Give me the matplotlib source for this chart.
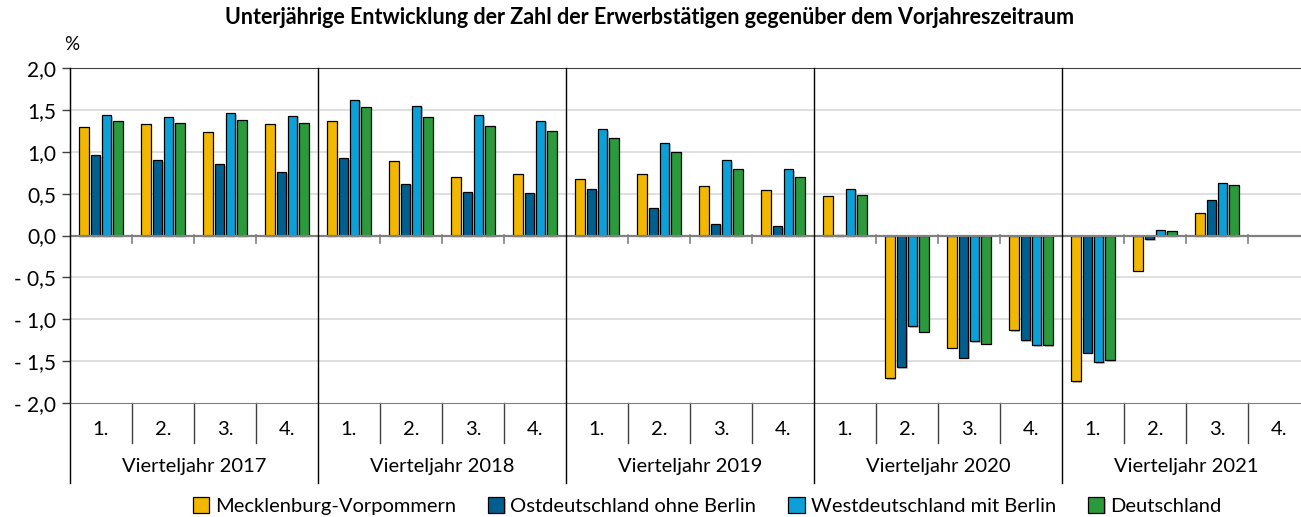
import numpy as np
import matplotlib
matplotlib.use("Agg")
import matplotlib.pyplot as plt
import matplotlib.patheffects as pe
from matplotlib.transforms import blended_transform_factory

plt.rcParams['font.family'] = ['Lato', 'DejaVu Sans']

# data (Veränderung gegenüber Vorjahreszeitraum in %)
years = ['2017', '2018', '2019', '2020', '2021']
quarters = ['1.', '2.', '3.', '4.']
series = ['Mecklenburg-Vorpommern', 'Ostdeutschland ohne Berlin',
          'Westdeutschland mit Berlin', 'Deutschland']
mv = [1.30, 1.33, 1.23, 1.33, 1.37, 0.89, 0.70, 0.74, 0.68, 0.74, 0.59, 0.54,
      0.47, -1.70, -1.34, -1.13, -1.74, -0.42, 0.27, np.nan]
ost = [0.96, 0.90, 0.85, 0.76, 0.92, 0.62, 0.52, 0.51, 0.55, 0.33, 0.14, 0.11,
       0.005, -1.57, -1.46, -1.25, -1.40, -0.04, 0.42, np.nan]
west = [1.44, 1.41, 1.46, 1.43, 1.62, 1.55, 1.44, 1.37, 1.27, 1.11, 0.90, 0.79,
        0.56, -1.08, -1.26, -1.31, -1.51, 0.06, 0.63, np.nan]
de = [1.37, 1.34, 1.38, 1.34, 1.53, 1.42, 1.31, 1.25, 1.17, 1.00, 0.80, 0.70,
      0.48, -1.15, -1.29, -1.31, -1.49, 0.05, 0.60, np.nan]
colors = ['#F2B800', '#005F8F', '#0BA0D8', '#2A9A3C']

W, H = 1301, 517
fig = plt.figure(figsize=(W / 100, H / 100), dpi=100)
ax = fig.add_axes([70 / W, 114 / H, 1240 / W, 335 / H])

n = len(mv)
x = np.arange(n) + 0.5
pitch = 0.183
width = 0.155
shadow = [pe.SimplePatchShadow(offset=(1.2, -1.2), shadow_rgbFace='#999999', alpha=0.6), pe.Normal()]
handles = []
for k, (vals, c) in enumerate(zip([mv, ost, west, de], colors)):
    b = ax.bar(x + (k - 1.5) * pitch, vals, width, color=c, edgecolor='black',
               linewidth=0.9, zorder=3, label=series[k])
    for p in b:
        p.set_path_effects(shadow)
    handles.append(b)

ax.set_xlim(0, n)
ax.set_ylim(-2, 2)
yt = np.arange(-2, 2.01, 0.5)
ax.set_yticks(yt)
ax.set_yticklabels([('- ' if v < 0 else '') + f'{abs(v):.1f}'.replace('.', ',') for v in yt],
                   fontsize=15)
ax.tick_params(axis='y', length=6, width=1, color='#404040', pad=4)
ax.set_xticks([])
for v in yt:
    if v not in (-2, 0, 2):
        ax.axhline(v, color='#D9D9D9', lw=1.2, zorder=0)
ax.axhline(0, color='#808080', lw=1.6, zorder=4)

ax.spines['left'].set_color('black')
ax.spines['top'].set_color('#404040')
ax.spines['bottom'].set_color('#808080')
ax.spines['right'].set_visible(False)

tr = blended_transform_factory(ax.transData, ax.transAxes)
# small ticks on the zero line between quarters
for i in range(1, n):
    if i % 4:
        ax.plot([i, i], [0.5, 0.479], transform=tr, color='#808080', lw=1.2,
                clip_on=False, zorder=4)

# year separators
for j in range(len(years) + 1):
    xx = j * 4
    ax.plot([xx, xx], [1, -0.239], transform=tr, color='black', lw=1,
            clip_on=False, zorder=5)
# quarter separators + labels below the plot
for i in range(n):
    if i % 4:
        ax.plot([i, i], [0, -0.119], transform=tr, color='#404040', lw=1,
                clip_on=False)
    ax.text(i + 0.5, -0.078, quarters[i % 4], transform=tr, ha='center',
            va='center', fontsize=14.5)
for j, yr in enumerate(years):
    ax.text(j * 4 + 2, -0.191, 'Vierteljahr ' + yr, transform=tr, ha='center',
            va='center', fontsize=14.5)

fig.text(650 / W, 1 - 18 / H,
         'Unterjährige Entwicklung der Zahl der Erwerbstätigen gegenüber dem Vorjahreszeitraum',
         ha='center', va='center', fontsize=15.5, fontweight='bold')
fig.text(64 / W, 1 - 44 / H, '%', ha='left', va='center', fontsize=13.5)

fig.legend(handles=handles, labels=series, loc='center', ncol=4,
           bbox_to_anchor=(707 / W, 1 - 506 / H), frameon=False, fontsize=14.5,
           handlelength=0.8, handleheight=0.8, handletextpad=0.3, columnspacing=1.6,
           borderaxespad=0)

fig.savefig('out.png', dpi=100)
